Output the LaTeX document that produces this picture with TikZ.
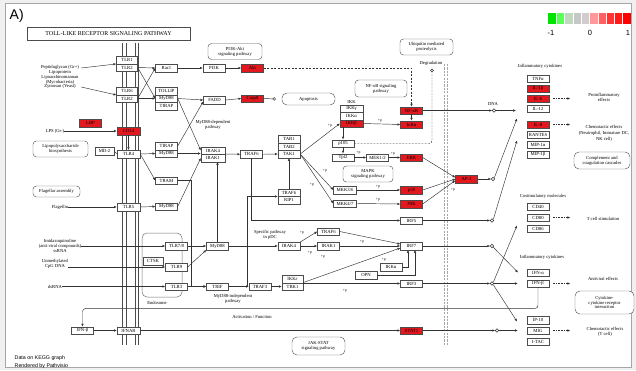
\documentclass[tikz,border=0pt]{standalone}
\usepackage{fontspec}
\setmainfont{Liberation Serif}
\newfontfamily\labelsans{Liberation Sans}
\usetikzlibrary{arrows.meta}

\definecolor{upred}{RGB}{226,24,30}
\definecolor{linegray}{RGB}{50,50,50}
\newcommand{\genesize}{\fontsize{4.7}{5}\selectfont}
\newcommand{\notesize}{\fontsize{4.6}{4.9}\selectfont}
\newcommand{\phossize}{\fontsize{3.8}{4}\selectfont}

\tikzset{
  gene/.style={draw=black!70, fill=white, line width=0.4pt, minimum width=22pt,
    minimum height=7.5pt, inner sep=0pt, font=\genesize},
  upgene/.style={gene, fill=upred},
  tlr/.style={gene, minimum width=21pt},
  pathway/.style={draw=black!65, line width=0.45pt, rounded corners=3.5pt, fill=white,
    align=center, inner sep=0.5pt, font=\notesize},
  note/.style={align=center, inner sep=0pt, font=\notesize},
  phos/.style={inner sep=0pt, font=\phossize},
  hub/.style={circle, draw=linegray, fill=white, line width=0.45pt, inner sep=0pt, minimum size=3.4pt},
  link/.style={-{Latex[length=2.8pt,width=2.4pt]}, line width=0.45pt, draw=linegray},
  bond/.style={line width=0.45pt, draw=linegray},
  effect/.style={-{Latex[length=2.8pt,width=2.4pt]}, line width=0.45pt, draw=linegray, dash pattern=on 1.6pt off 1pt},
  degrade/.style={line width=0.45pt, draw=linegray, dash pattern=on 2pt off 1.2pt, rounded corners=3pt},
}

\begin{document}
\begin{tikzpicture}[x=1pt,y=-1pt]
\useasboundingbox (0,0) rectangle (636,370);
% panel
\fill[black!6] (0,0) rectangle (636,370);
\draw[black!35, fill=white] (5.5,3.5) rectangle (631.5,367.5);
\node[anchor=west, inner sep=0pt, font=\labelsans\fontsize{14}{14}\selectfont] (panel) at (9.5,16) {A)};
\node[draw=black!70, line width=0.55pt, minimum width=163pt, minimum height=13pt, inner sep=0pt,
  font=\fontsize{6}{6.5}\selectfont] (title) at (108.5,33.5) {TOLL-LIKE RECEPTOR SIGNALING PATHWAY};

% legend
\foreach \col [count=\i from 0] in {green!90!black, green!65!white, green!40!black!25!white,
    black!22!white, red!15!black!20!white, red!40!white, red!62!white, red!80!white, red!90!white, red}
  \fill[fill=\col] (548+8.3*\i,13) rectangle ++(8.3,11);
\foreach \i in {1,...,9}
  \draw[white, line width=0.5pt] (548+8.3*\i,13) -- ++(0,11);
\node[font=\labelsans\fontsize{7.5}{8}\selectfont, inner sep=0pt] (lgneg) at (551,33) {-1};
\node[font=\labelsans\fontsize{7.5}{8}\selectfont, inner sep=0pt] (lgzero) at (590,33) {0};
\node[font=\labelsans\fontsize{7.5}{8}\selectfont, inner sep=0pt] (lgpos) at (628,33) {1};

% membranes
\foreach \x in {122.5,125.8,134.8,137.8}
  \draw[black!70, line width=0.6pt] (\x,43) -- (\x,345);
\foreach \x in {444.3,447.3}
  \draw[black!35, line width=0.7pt, dash pattern=on 2.2pt off 1.2pt] (\x,64) -- (\x,346);
\draw[black!55, line width=0.5pt, rounded corners=5pt] (142,233) rectangle (182,297);
\node[note] (endo) at (157,302.5) {Endosome};

% ligands
\node[note] (pgn) at (60,77) {Peptidoglycan (Gr+)\\Lipoprotein\\Lipoarabinomannan\\(Mycobacteria)\\Zymosan (Yeast)};
\node[upgene] (LBP) at (90.5,123) {LBP};
\node[note] (lps) at (55,131) {LPS (Gr-)};
\node[pathway, minimum width=55pt, minimum height=16pt] (lpsbio) at (60.5,149) {Lipopolysaccharide\\biosynthesis};
\node[gene, minimum width=19pt] (MD2) at (104.5,151) {MD-2};
\node[pathway, minimum width=47pt, minimum height=11pt] (flag) at (56.5,191.5) {Flagellar assembly};
\node[note] (flagellin) at (60,207) {Flagellin};
\node[note] (imq) at (60,246) {Imidazoquinoline\\(anti-viral compounds)\\ssRNA};
\node[note] (cpg) at (55,264) {Unmethylated\\CpG DNA};
\node[note] (dsrna) at (55,286.5) {dsRNA};
\node[gene] (IFNBl) at (82.5,330.5) {IFN-β};

% receptors
\node[tlr] (TLR1) at (127,60) {TLR1};
\node[tlr] (TLR2a) at (127,67.5) {TLR2};
\node[tlr] (TLR6) at (127,91) {TLR6};
\node[tlr] (TLR2b) at (127,98.5) {TLR2};
\node[upgene, minimum width=23pt] (CD14) at (128.5,131) {CD14};
\node[gene, minimum width=23pt] (TLR4) at (128.5,154) {TLR4};
\node[gene, minimum width=23pt] (TLR5) at (128.5,207) {TLR5};
\node[gene, minimum width=23pt] (IFNAR) at (128.5,330.5) {IFNAR};
\node[gene] (TLR78) at (176.5,246) {TLR7/8};
\node[gene, minimum width=20pt] (CTSK) at (153,261) {CTSK};
\node[gene] (TLR9) at (176.5,267) {TLR9};
\node[gene] (TLR3) at (176.5,286.5) {TLR3};

% adaptors
\node[gene] (Rac1) at (166.5,68) {Rac1};
\node[gene] (TOLLIP) at (166.5,91) {TOLLIP};
\node[gene] (MyD88a) at (166.5,98.5) {MyD88};
\node[gene] (TIRAPa) at (166.5,106) {TIRAP};
\node[gene] (TIRAPb) at (166.5,146) {TIRAP};
\node[gene] (MyD88b) at (166.5,153.5) {MyD88};
\node[gene] (TRAM) at (166.5,180.5) {TRAM};
\node[gene] (MyD88c) at (166.5,206.5) {MyD88};
\node[gene] (MyD88d) at (217.5,246) {MyD88};
\node[gene] (TRIF) at (217.5,286.5) {TRIF};

% PI3K and apoptosis
\node[gene] (PI3K) at (214,68) {PI3K};
\node[upgene] (Akt) at (252.5,68) {Akt};
\node[pathway, minimum width=54pt, minimum height=16pt] (pi3kpath) at (235,51.5) {PI3K-Akt\\signaling pathway};
\node[gene] (FADD) at (214.5,100) {FADD};
\node[upgene] (Casp8) at (252.5,98.5) {Casp8};
\node[pathway, minimum width=53pt, minimum height=12pt, rounded corners=5pt] (apop) at (308.5,99) {Apoptosis};

% MyD88-dependent core
\node[note] (myddep) at (213,125) {MyD88-dependent\\pathway};
\node[gene, minimum width=24pt] (IRAK4a) at (213,150.5) {IRAK4};
\node[gene, minimum width=24pt] (IRAK1a) at (213,158) {IRAK1};
\node[gene] (TRAF6a) at (251.5,154.25) {TRAF6};
\node[gene] (TAB1) at (289,139) {TAB1};
\node[gene] (TAB2) at (289,146.5) {TAB2};
\node[gene] (TAK1) at (289,154) {TAK1};
\node[gene] (TRAF6b) at (289,192.5) {TRAF6};
\node[gene] (RIP1) at (289,200) {RIP1};

% NF-kB
\node[note] (ikklbl) at (351.5,101.5) {IKK};
\node[gene, minimum width=23pt] (IKKg) at (351.5,108.5) {IKKγ};
\node[gene, minimum width=23pt] (IKKa) at (351.5,116) {IKKα};
\node[upgene, minimum width=23pt] (IKKb) at (351.5,123.5) {IKKβ};
\node[upgene] (NFkB) at (411.5,110.5) {NF-κB};
\node[upgene] (IkBa) at (411.5,124.5) {IκBα};
\node[pathway, minimum width=52pt, minimum height=17pt] (nfkbpath) at (381,88.5) {NF-κB signaling\\pathway};
\node[pathway, minimum width=53pt, minimum height=16pt] (ubq) at (426.5,47) {Ubiquitin mediated\\proteolysis};
\node[note] (degr) at (431,63.5) {Degradation};
\node[hub, minimum size=3pt] (cDeg) at (432,70.5) {};

% MAPK
\node[gene] (p105) at (343,143.5) {p105};
\node[gene] (Tpl2) at (343,157.5) {Tpl2};
\node[gene] (MEK) at (377.5,157.5) {MEK1/2};
\node[upgene] (ERK) at (411.5,157.5) {ERK};
\node[pathway, minimum width=50pt, minimum height=16pt] (mapkpath) at (368,174) {MAPK\\signaling pathway};
\node[gene, minimum width=23pt] (MKK36) at (345,190) {MKK3/6};
\node[gene, minimum width=23pt] (MKK47) at (345,203.5) {MKK4/7};
\node[upgene] (p38) at (411.5,190) {p38};
\node[upgene] (JNK) at (411.5,204) {JNK};
\node[upgene] (AP1) at (466.5,179) {AP-1};

% IRF branch
\node[gene] (IRF5) at (411.5,220.5) {IRF5};
\node[note] (pdc) at (270,235) {Specific pathway\\in pDC};
\node[gene] (IRAK4b) at (289,246) {IRAK4};
\node[gene] (TRAF6c) at (328.5,231.5) {TRAF6};
\node[gene] (IRAK1b) at (328.5,246) {IRAK1};
\node[gene] (IRF7) at (411.5,246) {IRF7};
\node[gene] (IKKab) at (391,267) {IKKα};
\node[gene] (OPN) at (366,275) {OPN};
\node[gene] (TRAF3) at (260,286.5) {TRAF3};
\node[gene, minimum width=21pt] (IKKe) at (292.5,279) {IKKε};
\node[gene, minimum width=21pt] (TBK1) at (292.5,286.5) {TBK1};
\node[gene] (IRF3) at (411.5,283.5) {IRF3};
\node[note] (mydind) at (233,298.5) {MyD88-independent\\pathway};
\node[upgene] (STAT1) at (411.5,330.5) {STAT1};
\node[pathway, minimum width=53pt, minimum height=18pt, rounded corners=5pt] (jakpath) at (318.5,346) {JAK-STAT\\signaling pathway};
\node[note] (actfun) at (252,316.5) {Activation / Function};

% transcription hubs
\node[note] (dna) at (493,103.5) {DNA};
\node[hub] (cDNA) at (494,110.5) {};
\node[hub] (cAP) at (493,179) {};
\node[hub] (cIRF5) at (492,220.5) {};
\node[hub] (cIRF7) at (492,246) {};
\node[hub] (cIRF3) at (492,283.5) {};
\node[hub] (cSTAT) at (497,330.5) {};

% outputs
\node[note] (infl1) at (540,66.5) {Inflammatory cytokines};
\node[gene] (TNFa) at (538,78.5) {TNFα};
\node[upgene] (IL1b) at (538,88.5) {IL-1β};
\node[upgene] (IL6) at (538,98.5) {IL-6};
\node[gene] (IL12) at (538,108.5) {IL-12};
\node[upgene] (IL8) at (538,124.5) {IL-8};
\node[gene] (RANTES) at (538,134.5) {RANTES};
\node[gene] (MIP1a) at (538,144.5) {MIP-1α};
\node[gene] (MIP1b) at (538,154.5) {MIP-1β};
\node[note] (costim) at (543,196.5) {Costimulatory molecules};
\node[gene] (CD40) at (538,206.5) {CD40};
\node[gene] (CD80) at (538,217.5) {CD80};
\node[gene] (CD86) at (538,228.5) {CD86};
\node[note] (infl2) at (542,257.5) {Inflammatory cytokines};
\node[gene] (IFNa) at (538,272.5) {IFN-α};
\node[gene] (IFNb) at (538,283.5) {IFN-β};
\node[gene] (IP10) at (538,320) {IP-10};
\node[gene] (MIG) at (538,330.5) {MIG};
\node[gene] (ITAC) at (538,341.5) {I-TAC};
\node[note] (proinf) at (604,97.5) {Proinflammatory\\effects};
\node[note] (chemo1) at (604,133.5) {Chemotactic effects\\[1.2pt](Neutrophil, Immature DC,\\[1.2pt]NK cell)};
\node[pathway, minimum width=56pt, minimum height=17pt, rounded corners=5pt] (compl) at (602,160.5) {Complement and\\coagulation cascades};
\node[note] (tcell) at (603,219) {T cell stimulation};
\node[note] (antiv) at (603,279) {Antiviral effects};
\node[pathway, minimum width=59pt, minimum height=23pt, rounded corners=5pt] (ccr) at (604.5,302.5) {Cytokine-\\cytokine receptor\\interaction};
\node[note] (chemo2) at (605,332) {Chemotactic effects\\(T cell)};

% footer
\node[anchor=west, align=left, inner sep=0pt, font=\labelsans\fontsize{5.3}{7.5}\selectfont] (footer) at (14.5,362) {Data on KEGG graph\\Rendered by Pathvisio};

% phosphorylation marks
\foreach \px/\py [count=\k] in {330/125.5, 325/171, 312/185, 380/120.5, 358.5/153, 393/153.5,
    378/186.5, 378/200, 453/190, 302/232.5, 310/252.5, 362/242, 323/257, 384/260, 345/291}
  \node[phos] (ph\k) at (\px,\py) {+p};

% ligand binding
\draw[link] ([xshift=2pt,yshift=9pt]pgn.east) -- (TLR1.south west);
\draw[link] ([xshift=2pt,yshift=-10pt]pgn.east) -- (TLR6.south west);
\draw[link] (lps.east) -- (CD14.west);
\draw[link] (CD14.south) -- (TLR4.north);
\draw[bond] (MD2.east) -- (TLR4.west);
\draw[link] (flagellin.east) -- (TLR5.west);
\draw[link] (imq.east) -- (TLR78.west);
\draw[link] (cpg.east |- TLR9.west) -- (TLR9.west);
\draw[link] (dsrna.east) -- (TLR3.west);

% receptor to adaptor
\draw[link] (TLR2a.east) -- (Rac1.west);
\draw[link] (TLR2a.east) -- (MyD88a.west);
\draw[link] (TLR2b.east) -- (Rac1.west);
\draw[link] (TLR2b.east) -- (MyD88a.west);
\draw[link] (TLR4.east) -- (MyD88b.west);
\draw[link] (TLR4.east) -- (TRAM.west);
\draw[link] (TLR5.east) -- (MyD88c.west);
\draw[link] (TLR78.east) -- (MyD88d.west);
\draw[link] (TLR9.east) -- (MyD88d.south west);
\draw[link] (TLR3.east) -- (TRIF.west);
\draw[link] (TRAM.east) -- ++(14,0) |- (TRIF.west);

% PI3K, apoptosis
\draw[link] (Rac1.east) -- (PI3K.west);
\draw[link] (PI3K.east) -- (Akt.west);
\draw[link, dash pattern=on 2.2pt off 1.3pt] (Akt.east) -| (NFkB.north);
\draw[link] (MyD88a.east) -- (FADD.west);
\draw[link] (TIRAPb.east) -- ([yshift=-1.5pt]FADD.west);
\draw[link] (FADD.east) -- (Casp8.west);
\draw[-{Circle[open,length=3.2pt]}, line width=0.45pt, draw=linegray] (Casp8.east) -- ([xshift=-6pt]apop.west);

% MyD88-dependent
\draw[link] (MyD88a.east) -- (IRAK4a.west);
\draw[link] (MyD88b.east) -- (MyD88b.east -| IRAK4a.west);
\draw[link] (MyD88c.east) -- (IRAK1a.west);
\draw[link] (MyD88d.north) -- (MyD88d.north |- IRAK1a.south);
\draw[link] (IRAK1a.north east) -- (TRAF6a.west);
\draw[link] (TRAF6a.east) -- (TAK1.west);
\draw[link] (TRAF6b.north) -- (TAK1.south);
\draw[link] (TRAF6a.south) |- (IRF5.west);
\draw[link] (TAK1.east) -- (IKKb.west);
\draw[link] (TAK1.east) -- (MKK36.west);
\draw[link] (TAK1.east) -- (MKK47.west);
\draw[link] (IKKb.east) -- (IkBa.west);
\draw[link] (NFkB.south) -- (IkBa.north);
\draw[link] (p105.north |- IKKb.south) -- (p105.north);
\draw[link] (p105.south) -- (Tpl2.north);
\draw[link] (Tpl2.east) -- (MEK.west);
\draw[link] (MEK.east) -- (ERK.west);
\draw[degrade] (p105.east) -| (cDeg.south);
\draw[link] (MKK36.east) -- (p38.west);
\draw[link] (MKK47.east) -- (JNK.west);
\draw[link] (ERK.east) -- ([yshift=1.5pt]AP1.west);
\draw[link] (p38.east) -- (AP1.west);
\draw[link] (JNK.east) -- ([yshift=-1.5pt]AP1.west);

% MyD88-independent and pDC
\coordinate (trifup) at (247,286.5);
\draw[link] (TRIF.east) -- (TRAF3.west);
\draw[link] (trifup) |- (TRAF6b.south west);
\draw[link] (TRAF3.east) -- (TBK1.west);
\draw[link] (MyD88d.east) -- (IRAK4b.west);
\draw[link] (IRAK4b.east) -- (IRAK1b.west);
\draw[link] (IRAK4b.north east) -- (TRAF6c.west);
\draw[link] (TRAF6c.east) -- ([yshift=2pt]IRF7.west);
\draw[link] (IRAK1b.east) -- (IRF7.west);
\draw[link] (TBK1.north east) -- ([yshift=-2pt]IRF7.west);
\draw[link] (IKKab.east) -| ([xshift=-3.5pt]IRF7.south);
\draw[link] (OPN.east) -| ([xshift=3.5pt]IRF7.south);
\draw[link] (IRF3.west -| TBK1.east) -- (IRF3.west);

% interferon loop
\draw[link, rounded corners=3pt] (IFNb.south) -- ++(0,21) -| (IFNBl.north);
\draw[link] (IFNBl.east) -- (IFNAR.west);
\draw[link] (IFNAR.east) -- (STAT1.west);

% transcription
\coordinate (inIL) at (516,110.5);
\coordinate (inILb) at (517,118.5);
\coordinate (inCK) at (517,140.5);
\coordinate (inCD) at (517,225.5);
\coordinate (inIFNa) at (518,272.5);
\coordinate (inIP) at (517,321.5);
\draw[link] (NFkB.east) -- (cDNA.west);
\draw[link] (cDNA.east) -- (inIL);
\draw[link] (AP1.east) -- (cAP.west);
\draw[link] (cAP.north east) -- (inILb);
\draw[link] (IRF5.east) -- (cIRF5.west);
\draw[link] (cIRF5.north east) -- (inCK);
\draw[link] (IRF7.east) -- (cIRF7.west);
\draw[link] (cIRF7.south east) -- (inIFNa);
\draw[link] (IRF3.east) -- (cIRF3.west);
\draw[link] (cIRF3.east) -- ([xshift=-9pt]IFNb.west);
\draw[link] (cIRF3.north east) -- (inCD);
\draw[link] (cIRF3.south east) -- (inIP);
\draw[link] (STAT1.east) -- (cSTAT.west);
\draw[link] (cSTAT.east) -- ([xshift=-9pt]MIG.west);

% effects
\draw[effect] ([xshift=4pt]IL6.east) -- ++(17,0);
\draw[effect] ([xshift=4pt]IL8.east) -- ++(17,0);
\draw[effect] ([xshift=4pt]CD80.east) -- ++(17,0);
\draw[effect] ([xshift=4pt]IFNb.east) -- ++(17,0);
\draw[effect] ([xshift=4pt]MIG.east) -- ++(17,0);
\end{tikzpicture}
\end{document}
